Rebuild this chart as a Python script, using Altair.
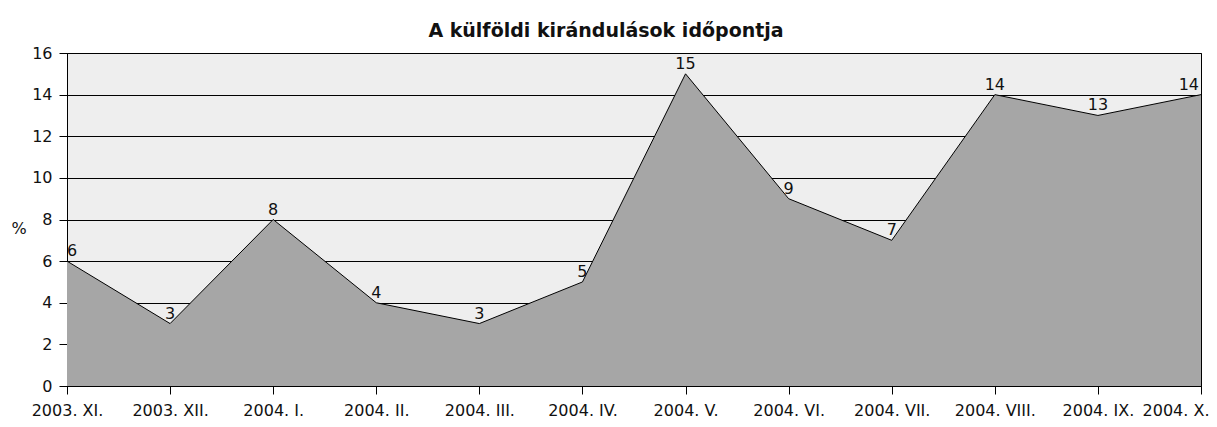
import altair as alt
import pandas as pd

months = ["2003. XI.", "2003. XII.", "2004. I.", "2004. II.", "2004. III.", "2004. IV.",
          "2004. V.", "2004. VI.", "2004. VII.", "2004. VIII.", "2004. IX.", "2004. X."]
values = [6, 3, 8, 4, 3, 5, 15, 9, 7, 14, 13, 14]

df = pd.DataFrame({"month": months, "value": values, "idx": list(range(len(months)))})

FONT = "DejaVu Sans"
FS = 16

x = alt.X("month:N", sort=months, title=None,
          scale=alt.Scale(type="point", padding=0),
          axis=alt.Axis(labelAngle=0, labelFontSize=FS, labelFont=FONT, labelColor="#111",
                        tickSize=8, tickColor="black", domainColor="black",
                        labelPadding=8, grid=False,
                        labelAlign=alt.expr("datum.label == '2004. X.' ? 'right' : 'center'"),
                        labelOffset=alt.expr("datum.label == '2004. X.' ? 8 : 0")))
y = alt.Y("value:Q", title="%",
          scale=alt.Scale(domain=[0, 16], nice=False),
          axis=alt.Axis(values=list(range(0, 17, 2)), labelFontSize=FS, labelFont=FONT,
                        labelColor="#111", tickSize=8, tickColor="black",
                        domainColor="black", gridColor="black", gridOpacity=1,
                        gridWidth=1, labelPadding=7,
                        titleAngle=0, titleFontWeight="normal", titleFontSize=FS,
                        titleFont=FONT, titleColor="#111", titleX=-56, titleY=175,
                        titleAlign="left", titleBaseline="middle"))

area = alt.Chart(df).mark_area(color="#a6a6a6", opacity=1,
                               line={"color": "black", "strokeWidth": 1}).encode(x=x, y=y)

base = alt.Chart(df).encode(x=alt.X("month:N", sort=months), y="value:Q", text="value:Q")
lab_mid = base.mark_text(baseline="bottom", dy=-2, fontSize=FS, font=FONT, color="#111",
                         align="center").transform_filter("datum.idx > 0 && datum.idx < 11")
lab_first = base.mark_text(baseline="bottom", dy=-2, fontSize=FS, font=FONT, color="#111",
                           align="left").transform_filter("datum.idx == 0")
lab_last = base.mark_text(baseline="bottom", dy=-2, dx=-2, fontSize=FS, font=FONT, color="#111",
                          align="right").transform_filter("datum.idx == 11")

chart = (area + lab_mid + lab_first + lab_last).properties(
    width=1134, height=333,
    title=alt.TitleParams("A külföldi kirándulások időpontja", font=FONT, fontSize=19,
                          fontWeight="bold", color="#111", anchor="middle", dx=-28, offset=4),
    autosize=alt.AutoSizeParams(type="none"),
    padding={"left": 59, "top": 45, "right": 8, "bottom": 33},
).configure_view(fill="#eeeeee", stroke="black", strokeWidth=1)

chart.save("out.html", embed_options={"renderer": "svg", "actions": False})
